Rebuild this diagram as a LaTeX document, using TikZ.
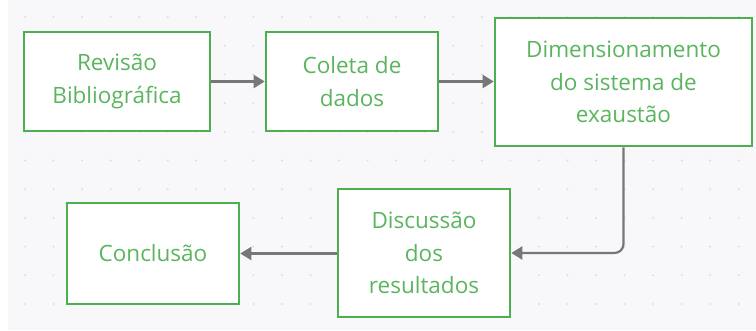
\documentclass[tikz,border=0pt]{standalone}
\usepackage{fontspec}
\setmainfont{Open Sans}
\usetikzlibrary{arrows.meta}
\definecolor{bg}{HTML}{F8F8FA}
\definecolor{dotc}{HTML}{DDDDE2}
\definecolor{boxg}{HTML}{4CAF50}
\definecolor{txtg}{HTML}{5BB55F}
\definecolor{arr}{HTML}{777777}
\tikzset{
  stepbox/.style={draw=boxg, line width=2.6pt, fill=white, text=txtg, align=center,
    font=\fontsize{22.5}{32.5}\selectfont, inner sep=0pt},
  conn/.style={draw=arr, line width=2.2pt, -{Triangle[length=11pt,width=13pt]}},
}
\begin{document}
\begin{tikzpicture}[x=1pt,y=1pt]
\useasboundingbox (0,0) rectangle (756,330);
\fill[bg] (8,0) rectangle (756,330);
\foreach \i in {0,...,25}{
  \foreach \j in {0,...,11}{
    \fill[dotc] ({25+28.55*\i},{330-17-28.7*\j}) circle (1.1pt);
  }
}
\node[stepbox, minimum width=186pt, minimum height=99pt] (b1) at (117,248.5) {Revisão\\Bibliográfica};
\node[stepbox, minimum width=172pt, minimum height=99pt] (b2) at (352,248.5) {Coleta de\\dados};
\node[stepbox, minimum width=257pt, minimum height=128pt] (b3) at (623.5,248) {Dimensionamento\\do sistema de\\exaustão};
\node[stepbox, minimum width=172pt, minimum height=128pt] (b4) at (424,77) {Discussão\\dos\\resultados};
\node[stepbox, minimum width=172pt, minimum height=101pt] (b5) at (153,76.5) {Conclusão};
\draw[conn] (b1.east) -- (b2.west);
\draw[conn] (b2.east) -- (b3.west |- b2.east);
\draw[conn, rounded corners=9pt] (b3.south) |- (b4.east);
\draw[conn] (b4.west |- b5.east) -- (b5.east);
\end{tikzpicture}
\end{document}
